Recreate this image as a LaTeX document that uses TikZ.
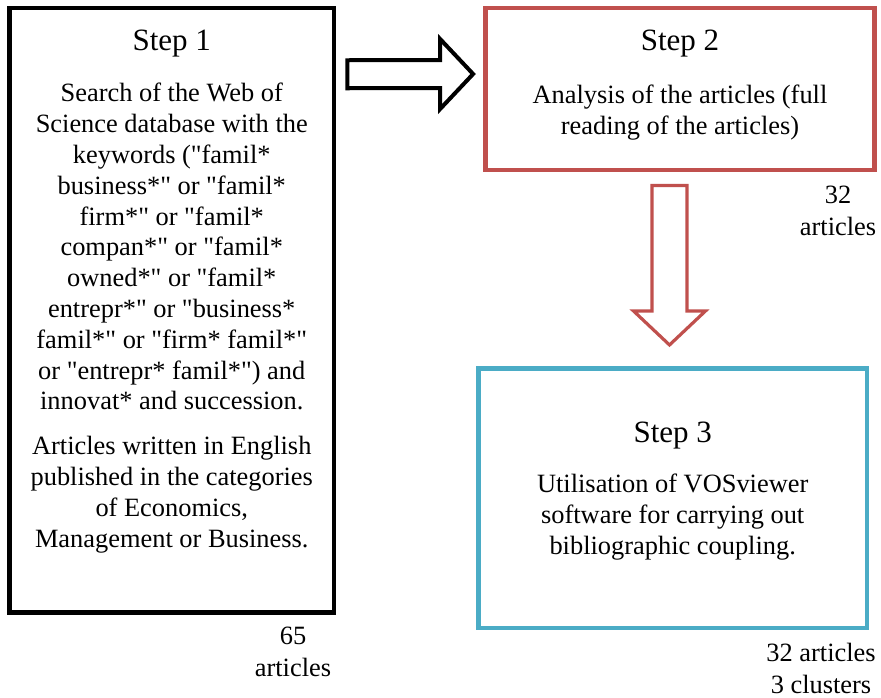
\documentclass[tikz,border=0pt]{standalone}
\usepackage{fontspec}
\setmainfont{Liberation Serif}[Ligatures=TeXOff]
\usetikzlibrary{calc}
\definecolor{stepred}{RGB}{192,80,77}
\definecolor{stepblue}{RGB}{75,172,198}

\begin{document}
\begin{tikzpicture}[x=0.5pt,y=-0.5pt,
    stepbox/.style={draw=#1,line width=2.4pt,inner sep=0pt},
    title/.style={anchor=base,inner sep=0pt,font=\fontsize{15.5}{17}\selectfont},
    body/.style={anchor=base,inner sep=0pt,align=center,font=\fontsize{13.2}{15.4}\selectfont},
    count/.style={anchor=base,inner sep=0pt,align=center,font=\fontsize{13.2}{16}\selectfont}]
    \useasboundingbox (0,0) rectangle (881,697);
    % the three boxes
    \node[stepbox=black,minimum width=162.25pt,minimum height=302.25pt] (step1) at (171.75,310.25) {};
    \node[stepbox=stepred,minimum width=194.5pt,minimum height=81pt] (step2) at (680,89) {};
    \node[stepbox=stepblue,minimum width=194.35pt,minimum height=129.85pt] (step3) at (672.7,498.2) {};
    % texts (base = last line)
    \node[title] (t1) at (171.75,50) {Step 1};
    \node[body] (b1) at (171.75,547) {Search of the Web of\\
        Science database with the\\
        keywords ("famil*\\
        business*" or "famil*\\
        firm*" or "famil*\\
        compan*" or "famil*\\
        owned*" or "famil*\\
        entrepr*" or "business*\\
        famil*" or "firm* famil*"\\
        or "entrepr* famil*") and\\
        innovat* and succession.\\[7pt]
        Articles written in English\\
        published in the categories\\
        of Economics,\\
        Management or Business.};
    \node[title] (t2) at (680,50) {Step 2};
    \node[body] (b2) at (680,134) {Analysis of the articles (full\\
        reading of the articles)};
    \node[title] (t3) at (672.7,442) {Step 3};
    \node[body] (b3) at (672.7,554) {Utilisation of VOSviewer\\
        software for carrying out\\
        bibliographic coupling.};
    \node[count] (n1) at (293,676) {65\\articles};
    \node[count] (n2) at (838,235) {32\\articles};
    \node[count] (n3) at (821,693) {32 articles\\3 clusters};
    % block arrows
    \coordinate (ra) at ($(step1.east)+(11,-236)$);
    \coordinate (rb) at ($(step2.west)+(-10,-15)$);
    \draw[line width=2pt,miter limit=10] ($(ra)+(0,-14)$) -- ($(rb)+(-33,-14)$) -- ($(rb)+(-33,-35)$)
        -- (rb) -- ($(rb)+(-33,35)$) -- ($(rb)+(-33,14)$) -- ($(ra)+(0,14)$) -- cycle;
    \coordinate (da) at ($(step2.south)+(-10.5,13)$);
    \coordinate (db) at ($(step3.north)+(-3.2,-21)$);
    \draw[stepred,line width=1.6pt,miter limit=10] ($(da)+(-17.5,0)$) -- ($(da)+(17.5,0)$) -- ($(db)+(17.5,-34)$)
        -- ($(db)+(36,-34)$) -- (db) -- ($(db)+(-36,-34)$) -- ($(db)+(-17.5,-34)$) -- cycle;
\end{tikzpicture}
\end{document}
